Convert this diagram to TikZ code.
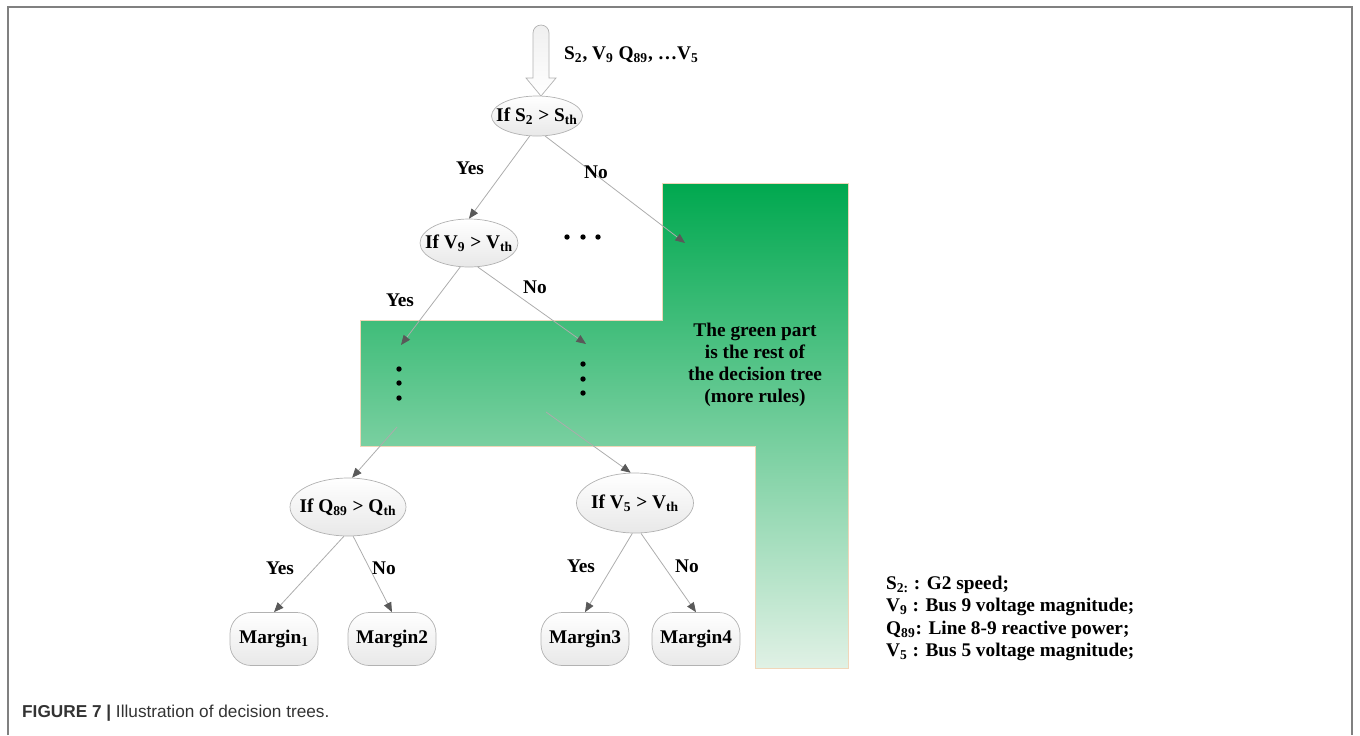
\documentclass[tikz,border=0pt]{standalone}
\usepackage{fontspec}
\setmainfont{Liberation Serif}
\newfontfamily\capfont{Liberation Sans}
\usetikzlibrary{shapes.geometric,arrows.meta}

\definecolor{treegreen}{RGB}{0,168,79}
\definecolor{palegreen}{RGB}{224,241,229}
\definecolor{framegray}{RGB}{128,128,128}
\definecolor{edgetan}{RGB}{236,204,168}

\begin{document}
\begin{tikzpicture}[x=0.02cm,y=-0.02cm,
    every node/.style={font=\fontsize{11}{13}\selectfont\bfseries},
    cond/.style={ellipse,draw=gray!60,top color=white,bottom color=gray!18,inner sep=0pt,inner xsep=-1cm},
    leaf/.style={rectangle,rounded corners=12pt,draw=gray!60,top color=white,bottom color=gray!18,
        minimum width=1.76cm,minimum height=1.06cm,inner sep=0pt},
    branch/.style={draw=gray!65,line width=0.45pt,-{Triangle[length=5.5pt,width=4.5pt,color=black!65]}},
    dot/.style={fill=black}]
    \useasboundingbox (0,0) rectangle (1360,735);
    \draw[framegray,line width=1.2pt] (8,735) -- (8,7) -- (1352,7) -- (1352,735);

    \shade[top color=treegreen,bottom color=palegreen,draw=edgetan!80,line width=0.5pt]
        (662,183) -- (848,183) -- (848,668) -- (755,668) -- (755,446)
        -- (360,446) -- (360,320) -- (662,320) -- cycle;
    \node[align=center,font=\fontsize{11}{12.5}\selectfont\bfseries] (rest) at (755,365)
        {The green part\\is the rest of\\the decision tree\\(more rules)};

    \draw[draw=gray!60,top color=gray!12,bottom color=white] (533,78) -- (533,33)
        arc[start angle=180,end angle=360,radius=8] -- (549,78) -- (556,78) -- (541,96) -- (526,78) -- cycle;
    \node[anchor=west] (inputs) at (558,55) {S\textsubscript{2}, V\textsubscript{9} Q\textsubscript{89}, \dots V\textsubscript{5}};

    \node[cond,minimum width=1.82cm,minimum height=0.8cm] (ifS) at (537,116) {If S\textsubscript{2} > S\textsubscript{th}};
    \node[cond,minimum width=1.96cm,minimum height=0.96cm] (ifV9) at (469,243) {If V\textsubscript{9} > V\textsubscript{th}};
    \node[cond,minimum width=2.32cm,minimum height=1.16cm] (ifQ) at (348,507) {If Q\textsubscript{89} > Q\textsubscript{th}};
    \node[cond,minimum width=2.34cm,minimum height=1.2cm] (ifV5) at (635,503) {If V\textsubscript{5} > V\textsubscript{th}};

    \node[leaf] (m1) at (274,639) {Margin\textsubscript{1}};
    \node[leaf] (m2) at (392,639) {Margin2};
    \node[leaf] (m3) at (585,639) {Margin3};
    \node[leaf] (m4) at (696,639) {Margin4};

    \coordinate (restNo) at (685,243);
    \coordinate (subYes) at (401,345);
    \coordinate (subNo) at (586,344);
    \coordinate (fromYes) at (397,427);
    \coordinate (fromNo) at (546,412);

    \draw[branch] (ifS.250) -- (ifV9.north);
    \draw[branch] (ifS.292) -- (restNo);
    \draw[branch] (ifV9.250) -- (subYes);
    \draw[branch] (ifV9.290) -- (subNo);
    \draw[branch] (fromYes) -- (ifQ.82);
    \draw[branch] (fromNo) -- (ifV5.98);
    \draw[branch] (ifQ.262) -- (m1.north);
    \draw[branch] (ifQ.280) -- (m2.north);
    \draw[branch] (ifV5.265) -- (m3.north);
    \draw[branch] (ifV5.281) -- (m4.north);

    \node (yes1) at (470,168) {Yes};
    \node (no1) at (596,172) {No};
    \node (yes2) at (400,300) {Yes};
    \node (no2) at (535,287) {No};
    \node (yes3) at (280,568) {Yes};
    \node (no3) at (384,568) {No};
    \node (yes4) at (581,566) {Yes};
    \node (no4) at (687,566) {No};

    \fill[dot] (567,237) circle[radius=2.7] (583,237) circle[radius=2.7] (598,237) circle[radius=2.7];
    \fill[dot] (399,369) circle[radius=2.7] (399,383) circle[radius=2.7] (399,398) circle[radius=2.7];
    \fill[dot] (583,364) circle[radius=2.7] (583,379) circle[radius=2.7] (583,393) circle[radius=2.7];

    \node[anchor=west] (leg1) at (880,585) {S\textsubscript{2:} : G2 speed;};
    \node[anchor=west] (leg2) at (880,607) {V\textsubscript{9} : Bus 9 voltage magnitude;};
    \node[anchor=west] (leg3) at (880,630) {Q\textsubscript{89}: Line 8-9 reactive power;};
    \node[anchor=west] (leg4) at (880,652) {V\textsubscript{5} : Bus 5 voltage magnitude;};

    \node[anchor=west,text=black!80,font=\capfont\fontsize{9.8}{11}\selectfont] (caption) at (16,713)
        {\textbf{FIGURE 7 |} Illustration of decision trees.};
\end{tikzpicture}
\end{document}
